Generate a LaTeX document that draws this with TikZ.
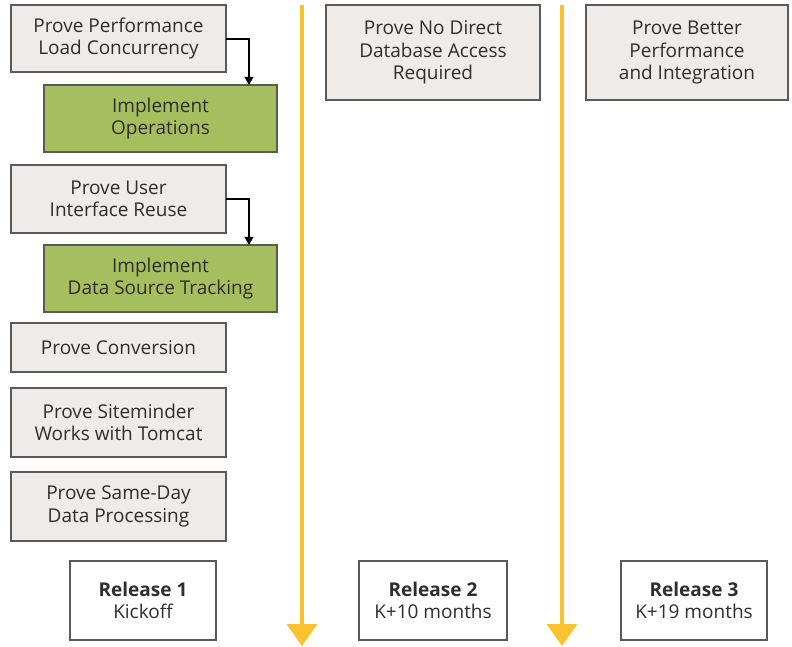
\documentclass[tikz,border=0pt]{standalone}
\usepackage{fontspec}
\setmainfont{Open Sans}
\usetikzlibrary{arrows.meta}
\definecolor{boxgray}{HTML}{EEEBE8}
\definecolor{boxedge}{HTML}{5A5A5A}
\definecolor{implgreen}{HTML}{A5BE5E}
\definecolor{relyellow}{HTML}{FCC12F}
\definecolor{txt}{HTML}{2E2E2E}
\begin{document}
\begin{tikzpicture}[x=1pt,y=-1pt,
  every node/.style={font=\fontsize{19}{22.5}\selectfont, text=txt, align=center, inner sep=0pt},
  provebox/.style={draw=boxedge, line width=1.3pt, fill=boxgray},
  implbox/.style={draw=boxedge, line width=1.3pt, fill=implgreen},
  relbox/.style={draw=boxedge, line width=1.3pt, fill=white},
  link/.style={draw=black, line width=1.5pt, -{Triangle[length=8pt,width=9pt]}},
  timeline/.style={draw=relyellow, line width=3.5pt, -{Triangle[length=22pt,width=30pt]}}
]
\useasboundingbox (0,0) rectangle (792,646);
\newcommand{\mybox}[6]{%
  \path[#1] (#2,#3) rectangle (#4,#5);
  \node[minimum width={#4-#2}, minimum height={#5-#3}] (#6) at ({(#2+#4)/2},{(#3+#5)/2}) {};}
\mybox{provebox}{11}{5}{226}{72}{pp}
\node at (pp) {Prove Performance\\Load Concurrency};
\mybox{implbox}{44}{85}{277}{152}{io}
\node at (io) {Implement\\Operations};
\mybox{provebox}{11}{165}{226}{233}{pu}
\node at (pu) {Prove User\\Interface Reuse};
\mybox{implbox}{44}{245}{277}{312}{ids}
\node at (ids) {Implement\\Data Source Tracking};
\mybox{provebox}{11}{323}{226}{372}{pc}
\node at (pc) {Prove Conversion};
\mybox{provebox}{11}{388}{226}{457}{ps}
\node at (ps) {Prove Siteminder\\Works with Tomcat};
\mybox{provebox}{11}{472}{226}{541}{pd}
\node at (pd) {Prove Same-Day\\Data Processing};
\mybox{provebox}{326}{5}{540}{100}{pn}
\node at (pn) {Prove No Direct\\Database Access\\Required};
\mybox{provebox}{586}{5}{788}{100}{pb}
\node at (pb) {Prove Better\\Performance\\and Integration};
\mybox{relbox}{70}{561}{216}{640}{r1}
\node at (r1) {\textbf{Release 1}\\Kickoff};
\mybox{relbox}{359}{561}{507}{640}{r2}
\node at (r2) {\textbf{Release 2}\\K+10 months};
\mybox{relbox}{621}{561}{767}{640}{r3}
\node at (r3) {\textbf{Release 3}\\K+19 months};
% connectors
\draw[link] (pp.east |- 0,39) -| (io.north -| 249,0);
\draw[link] (pu.east |- 0,199) -| (ids.north -| 249,0);
% timelines
\coordinate (t1a) at (302,5); \coordinate (t1b) at (302,646);
\coordinate (t2a) at (562,5); \coordinate (t2b) at (562,646);
\draw[timeline] (t1a) -- (t1b);
\draw[timeline] (t2a) -- (t2b);
\end{tikzpicture}
\end{document}
